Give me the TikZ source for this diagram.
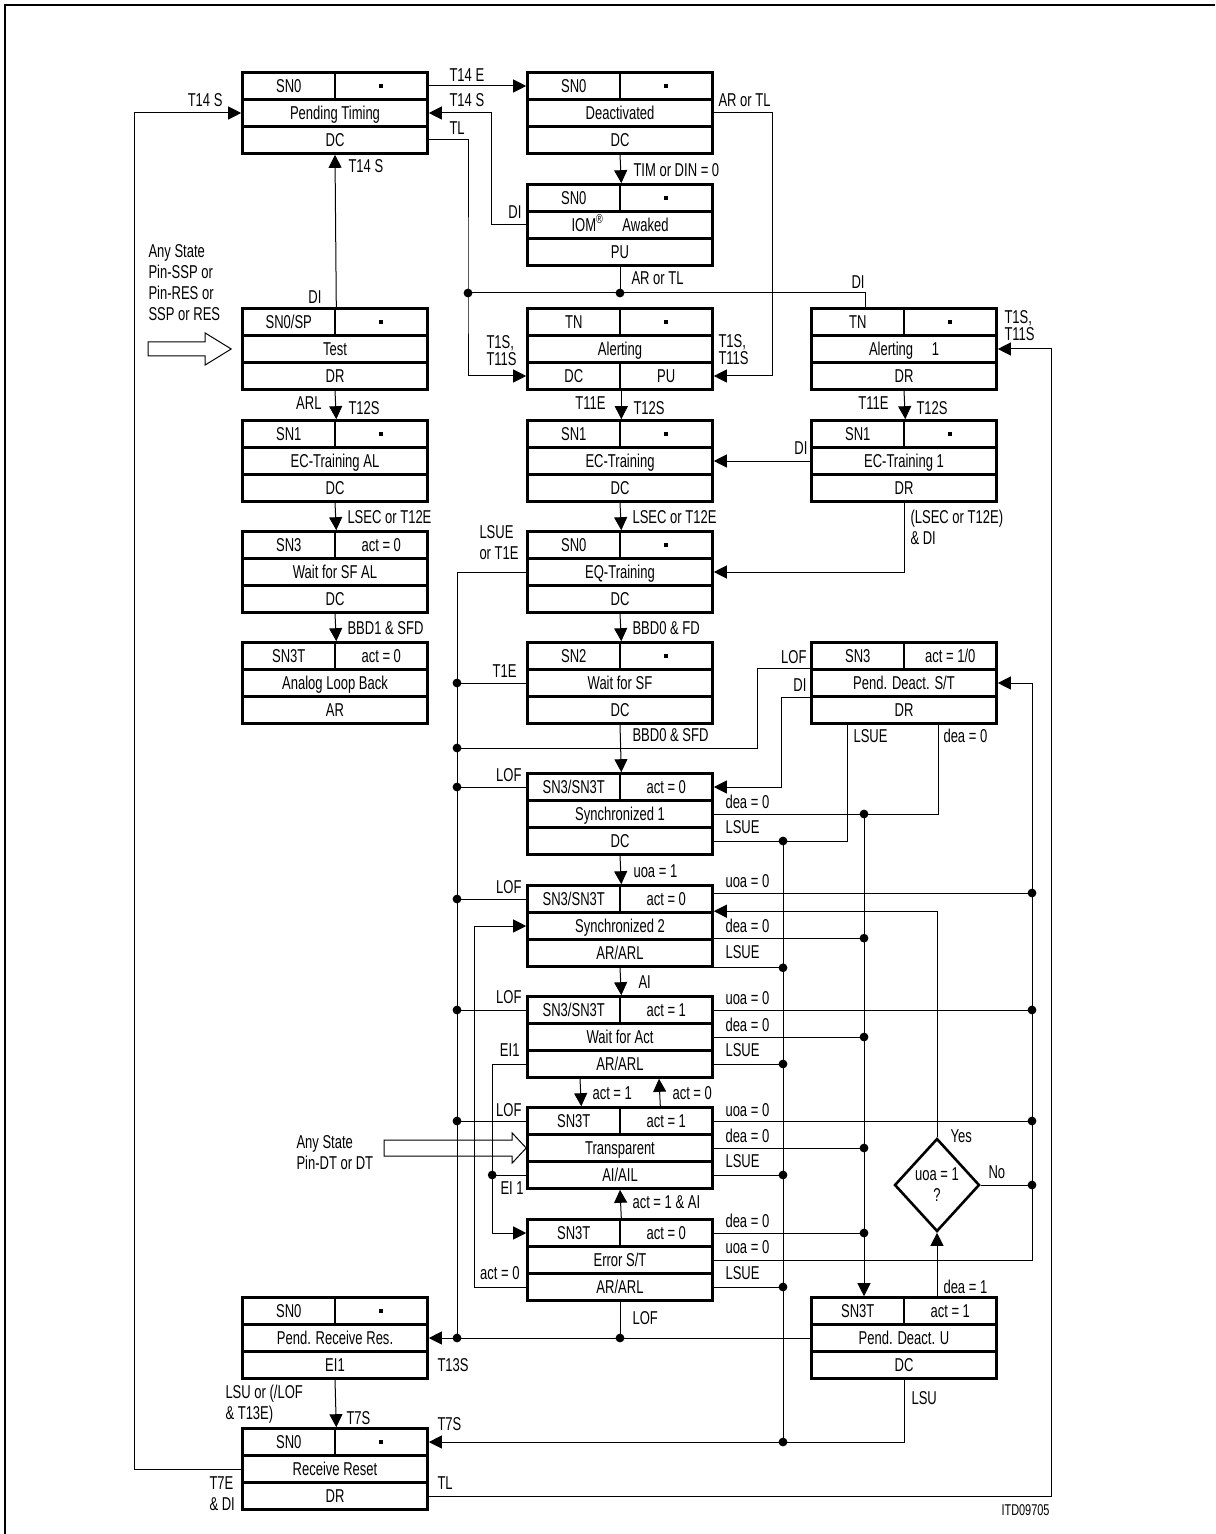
\documentclass[tikz,border=0pt]{standalone}
\usepackage{fontspec}
\setmainfont{Liberation Sans}[FakeStretch=0.70]
\usetikzlibrary{arrows.meta,calc,shapes.geometric}
\newcommand{\lblfont}{\fontsize{9.3pt}{10.5pt}\selectfont}
\newcommand{\blk}{\rule[2.4pt]{1.8pt}{1.8pt}}
% state box: name, x, y of the middle row, top left, top right, middle
\newcommand{\sttop}[6]{%
  \node[halfcell] (#1-tl) at (#2-46.25,#3-27) {#4};
  \node[halfcell] (#1-tr) at (#2+46.25,#3-27) {#5};
  \node[cell] (#1-m) at (#2,#3) {#6};}
\newcommand{\stbox}[7]{\sttop{#1}{#2}{#3}{#4}{#5}{#6}\node[cell] (#1-b) at (#2,#3+27) {#7};}

\begin{document}
\begin{tikzpicture}[x=0.5pt, y=-0.5pt, line width=0.5pt,
  >={Triangle[length=6.5pt,width=6.5pt]},
  cell/.style={draw, line width=1.3pt, minimum width=92.5pt, minimum height=13.5pt, inner sep=0pt, text height=6.6pt, text depth=0pt, font=\lblfont},
  halfcell/.style={cell, minimum width=46.25pt},
  lbl/.style={inner sep=0pt, text height=6.6pt, text depth=0pt, anchor=west, font=\lblfont},
  lbll/.style={lbl, anchor=east},
  mlbl/.style={inner sep=0pt, align=left, anchor=west, font=\lblfont},
  dot/.style={circle, fill, inner sep=0pt, minimum size=4.4pt},
  decide/.style={diamond, draw, line width=1.3pt, minimum width=42.5pt, minimum height=46.5pt, inner sep=0pt, align=center, font=\lblfont},
  fat/.style={draw, line width=0.5pt, line join=miter}]
\useasboundingbox (0,0) rectangle (1215,1534);
\draw[line width=1pt] (5,1534) -- (5,5) -- (1215,5);

% states
\stbox{ptim}{335}{113}{SN0}{\blk}{Pending Timing}{DC}
\stbox{test}{335}{349}{SN0/SP}{\blk}{Test}{DR}
\stbox{ecal}{335}{461}{SN1}{\blk}{EC-Training AL}{DC}
\stbox{wsfal}{335}{572}{SN3}{act = 0}{Wait for SF AL}{DC}
\stbox{alb}{335}{683}{SN3T}{act = 0}{Analog Loop Back}{AR}
\stbox{prr}{335}{1338}{SN0}{\blk}{Pend. Receive Res.}{EI1}
\stbox{rres}{335}{1469}{SN0}{\blk}{Receive Reset}{DR}
\stbox{deact}{620}{113}{SN0}{\blk}{Deactivated}{DC}
\stbox{iom}{620}{225}{SN0}{\blk}{IOM\textsuperscript{®}\quad Awaked}{PU}
\sttop{alert}{620}{349}{TN}{\blk}{Alerting}
\node[halfcell] (alert-bl) at (573.75,376) {DC};
\node[halfcell] (alert-br) at (666.25,376) {PU};
\stbox{ectr}{620}{461}{SN1}{\blk}{EC-Training}{DC}
\stbox{eqtr}{620}{572}{SN0}{\blk}{EQ-Training}{DC}
\stbox{wsf}{620}{683}{SN2}{\blk}{Wait for SF}{DC}
\stbox{sync1}{620}{814}{SN3/SN3T}{act = 0}{Synchronized 1}{DC}
\stbox{sync2}{620}{926}{SN3/SN3T}{act = 0}{Synchronized 2}{AR/ARL}
\stbox{wact}{620}{1037}{SN3/SN3T}{act = 1}{Wait for Act}{AR/ARL}
\stbox{transp}{620}{1148}{SN3T}{act = 1}{Transparent}{AI/AIL}
\stbox{err}{620}{1260}{SN3T}{act = 0}{Error S/T}{AR/ARL}
\stbox{alert1}{904}{349}{TN}{\blk}{Alerting\quad 1}{DR}
\stbox{ectr1}{904}{461}{SN1}{\blk}{EC-Training 1}{DR}
\stbox{pdst}{904}{683}{SN3}{act = 1/0}{Pend. Deact. S/T}{DR}
\stbox{pdu}{904}{1338}{SN3T}{act = 1}{Pend. Deact. U}{DC}
\node[decide] (dec) at (937,1185) {uoa = 1\\?};

% bus points
\coordinate (jtl) at (468,293);
\coordinate (jdi) at (865,293);
\coordinate (jlof) at (457,748);
\coordinate (bL) at (457,1338);
\coordinate (bl) at (783,1442);
\coordinate (bd) at (864,814);
\coordinate (bu) at (1032,683);
\coordinate (su) at ($(sync2-tr.east)+(0,-6)$);
\coordinate (jei) at ($(transp-b.west)+(-34,0)$);

% connectors
\draw[->] (ptim-tr.east) -- (deact-tl.west);
\draw[->] (iom-m.west) -- ++(-35,0) |- (ptim-m.east);
\draw[->] (ptim-b.east) -| (jtl) |- (alert-bl.west);
\draw (jtl) -- (jdi) -- (jdi |- alert1-tl.north);
\draw (iom-b.south) -- (iom-b.south |- jtl);
\draw[->] (deact-m.east) -- ++(59,0) |- (alert-br.east);
\draw[->] (deact-b.south) -- (iom-tl.north east);
\draw[->] (test-tl.north east) -- (ptim-b.south);
\foreach \a/\b in {test/ecal, ecal/wsfal, wsfal/alb, ectr/eqtr, eqtr/wsf, wsf/sync1, sync1/sync2, sync2/wact, alert1/ectr1, prr/rres}
  \draw[->] (\a-b.south) -- (\b-tl.north east);
\draw[->] (alert-bl.south east) -- (ectr-tl.north east);
\draw[->] (err-tl.north east) -- (transp-b.south);
\draw[->] ($(wact-b.south)+(-40,0)$) -- ($(transp-tl.north east)+(-40,0)$);
\draw[->] ($(transp-tl.north east)+(39,0)$) -- ($(wact-b.south)+(39,0)$);
\draw[->] (ectr1-m.west) -- (ectr-m.east);
\draw[->] (ectr1-b.south) |- (eqtr-m.east);
\draw (eqtr-m.west) -| (bL);
\foreach \s in {wsf-m, sync1-tl, sync2-tl, wact-tl, transp-tl}
  \draw (\s.west) -- (\s.west -| bL);
\draw (pdst-m.north west) -- ++(-53,0) |- (jlof);
\draw[->] (pdst-m.south west) -- ++(-29,0) |- (sync1-tr.east);
\draw ($(pdst-b.south)+(-57,0)$) |- (sync1-b.east);
\draw ($(pdst-b.south)+(34,0)$) |- (sync1-m.east);
\draw[->] (bd) -- (bd |- pdu-tl.north);
\draw (bl) -- (bl |- sync1-b.east);
\foreach \s in {sync2-b.south east, wact-b.east, transp-b.east, err-b.east}
  \draw (\s) -- (\s -| bl);
\foreach \s in {sync2-b.north east, wact-m.east, transp-m.east, err-tr.east}
  \draw (\s) -- (\s -| bd);
\draw[->] (err-m.east) -| (bu) -- (pdst-m.east);
\foreach \s in {su, wact-tr.east, transp-tr.east}
  \draw (\s) -- (\s -| bu);
\draw[->] (dec.north) |- (sync2-m.north east);
\draw (dec.east) -- (dec.east -| bu);
\draw[->] (pdu-tr.north -| dec.south) -- (dec.south);
\draw[->] (wact-b.west) -- ++(-34,0) |- (err-tl.west);
\draw (transp-b.west) -- (jei);
\draw[->] (err-b.west) -- ++(-52,0) |- (sync2-m.west);
\draw[->] (pdu-m.west) -- (prr-m.east);
\draw (err-b.south) -- (err-b.south |- prr-m.east);
\draw[->] (pdu-b.south) |- (rres-tr.east);
\draw[->] (rres-m.west) -- ++(-107,0) |- (ptim-m.west);
\draw[->] (rres-b.east) -- ++(623,0) |- (alert1-m.east);
\draw[fat] ($(test-m.west)+(-93,-7)$) -- ++(57,0) -- ++(0,-9) -- ++(26,16) -- ++(-26,16) -- ++(0,-9) -- ++(-57,0) -- cycle;
\draw[fat] ($(transp-m.west)+(-142,-8)$) -- ++(128,0) -- ++(0,-7) -- ++(14,15) -- ++(-14,15) -- ++(0,-7) -- ++(-128,0) -- cycle;

\foreach \p [count=\i] in {{jtl}, {iom-b.south |- jtl}, {wsf-m.west -| bL}, {jlof}, {sync1-tl.west -| bL}, {sync2-tl.west -| bL}, {wact-tl.west -| bL}, {transp-tl.west -| bL}, {bL},
  {sync1-b.east -| bl}, {sync2-b.south east -| bl}, {wact-b.east -| bl}, {transp-b.east -| bl}, {err-b.east -| bl}, {bl},
  {bd}, {sync2-b.north east -| bd}, {wact-m.east -| bd}, {transp-m.east -| bd}, {err-tr.east -| bd},
  {su -| bu}, {wact-tr.east -| bu}, {transp-tr.east -| bu}, {dec.east -| bu},
  {err-b.south |- prr-m.east}, {jei}}
  \node[dot] (d\i) at (\p) {};

% labels
\node[lbl] (l1) at (449,75) {T14 E};
\node[lbl] (l2) at (449,100) {T14 S};
\node[lbl] (l3) at (449,128) {TL};
\node[lbll] (l4) at (223,100) {T14 S};
\node[lbl] (l5) at (348,166) {T14 S};
\node[lbll] (l6) at (322,297) {DI};
\node[lbll] (l7) at (522,212) {DI};
\node[mlbl] (l8) at (486,351) {T1S,\\[-2pt]T11S};
\node[mlbl] (l9) at (718,350) {T1S,\\[-2pt]T11S};
\node[mlbl] (l10) at (1004,326) {T1S,\\[-2pt]T11S};
\node[lbl] (l11) at (718,100) {AR or TL};
\node[lbl] (l12) at (633,170) {TIM or DIN = 0};
\node[lbl] (l13) at (631,278) {AR or TL};
\node[lbl] (l14) at (851,282) {DI};
\node[mlbl] (l15) at (148,283) {Any State\\Pin-SSP or\\Pin-RES or\\SSP or RES};
\node[lbll] (l16) at (322,403) {ARL};
\node[lbl] (l17) at (348,408) {T12S};
\node[lbll] (l18) at (606,403) {T11E};
\node[lbl] (l19) at (633,408) {T12S};
\node[lbll] (l20) at (889,403) {T11E};
\node[lbl] (l21) at (916,408) {T12S};
\node[lbl] (l22) at (347,517) {LSEC or T12E};
\node[lbl] (l23) at (347,628) {BBD1 \& SFD};
\node[lbll] (l24) at (808,448) {DI};
\node[lbl] (l25) at (632,517) {LSEC or T12E};
\node[mlbl] (l26) at (910,527) {(LSEC or T12E)\\\& DI};
\node[mlbl] (l27) at (479,543) {LSUE\\or T1E};
\node[lbl] (l28) at (632,628) {BBD0 \& FD};
\node[lbll] (l29) at (517,671) {T1E};
\node[lbl] (l30) at (632,735) {BBD0 \& SFD};
\node[lbll] (l31) at (807,657) {LOF};
\node[lbll] (l32) at (807,685) {DI};
\node[lbl] (l33) at (853,736) {LSUE};
\node[lbl] (l34) at (943,736) {dea = 0};
\foreach \y [count=\i] in {775,887,997,1110}
  \node[lbll] (lof\i) at (522,\y) {LOF};
\foreach \t/\y [count=\i] in {dea = 0/802, LSUE/827, uoa = 0/881, dea = 0/926, LSUE/952, uoa = 0/998, dea = 0/1025, LSUE/1050,
  uoa = 0/1110, dea = 0/1136, LSUE/1161, dea = 0/1221, uoa = 0/1247, LSUE/1273}
  \node[lbl] (r\i) at (725,\y) {\t};
\node[lbl] (l35) at (633,871) {uoa = 1};
\node[lbl] (l36) at (638,982) {AI};
\node[lbll] (l37) at (520,1050) {EI1};
\node[lbl] (l38) at (592,1093) {act = 1};
\node[lbl] (l39) at (672,1093) {act = 0};
\node[lbl] (l40) at (500,1188) {EI 1};
\node[mlbl] (l41) at (296,1153) {Any State\\Pin-DT or DT};
\node[lbl] (l42) at (632,1202) {act = 1 \& AI};
\node[lbll] (l43) at (520,1273) {act = 0};
\node[lbl] (l44) at (632,1318) {LOF};
\node[lbl] (l45) at (437,1365) {T13S};
\node[mlbl] (l46) at (225,1404) {LSU or (/LOF\\\& T13E)};
\node[lbl] (l47) at (346,1418) {T7S};
\node[lbl] (l48) at (437,1424) {T7S};
\node[mlbl] (l49) at (209,1494) {T7E\\\& DI};
\node[lbl] (l50) at (437,1483) {TL};
\node[lbl] (l51) at (911,1398) {LSU};
\node[lbl] (l52) at (943,1287) {dea = 1};
\node[lbl] (l53) at (950,1136) {Yes};
\node[lbl] (l54) at (988,1172) {No};
\node[lbll, font=\fontsize{7.8pt}{9pt}\selectfont] (itd) at (1050,1509) {ITD09705};
\end{tikzpicture}
\end{document}
